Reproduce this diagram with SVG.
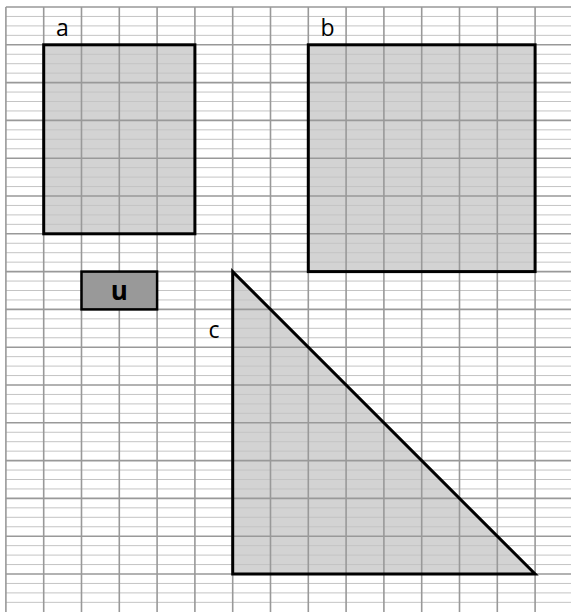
<svg xmlns="http://www.w3.org/2000/svg" width="571" height="612" viewBox="0 0 571 612">
<style>
.fill{fill:#d3d3d3;stroke:none}
.edge{fill:none;stroke:#000;stroke-width:3;stroke-linejoin:miter}
.major{stroke:#999;stroke-width:1.6}
.minor{stroke:#c4c4c4;stroke-width:1}
.lbl{font-family:"Open Sans","DejaVu Sans",sans-serif;font-size:23px;fill:#000}
.u{font-family:"Open Sans","DejaVu Sans",sans-serif;font-size:26px;font-weight:bold;fill:#000;text-anchor:middle}
</style>
<rect width="571" height="612" fill="#fff"/>
<g id="fills">
<rect class="fill" x="43.7" y="44.8" width="151.2" height="189"/>
<rect class="fill" x="308.3" y="44.8" width="226.8" height="226.8"/>
<polygon class="fill" points="232.7,271.6 232.7,574 535.1,574"/>
</g>
<g id="grid">
<g class="minor">
<path d="M5.9 16.45H571M5.9 25.9H571M5.9 35.35H571M5.9 54.25H571M5.9 63.7H571M5.9 73.15H571M5.9 92.05H571M5.9 101.5H571M5.9 110.95H571M5.9 129.85H571M5.9 139.3H571M5.9 148.75H571M5.9 167.65H571M5.9 177.1H571M5.9 186.55H571M5.9 205.45H571M5.9 214.9H571M5.9 224.35H571M5.9 243.25H571M5.9 252.7H571M5.9 262.15H571M5.9 281.05H571M5.9 290.5H571M5.9 299.95H571M5.9 318.85H571M5.9 328.3H571M5.9 337.75H571M5.9 356.65H571M5.9 366.1H571M5.9 375.55H571M5.9 394.45H571M5.9 403.9H571M5.9 413.35H571M5.9 432.25H571M5.9 441.7H571M5.9 451.15H571M5.9 470.05H571M5.9 479.5H571M5.9 488.95H571M5.9 507.85H571M5.9 517.3H571M5.9 526.75H571M5.9 545.65H571M5.9 555.1H571M5.9 564.55H571M5.9 583.45H571M5.9 592.9H571M5.9 602.35H571"/>
</g>
<g class="major">
<path d="M5.9 7H571M5.9 44.8H571M5.9 82.6H571M5.9 120.4H571M5.9 158.2H571M5.9 196H571M5.9 233.8H571M5.9 271.6H571M5.9 309.4H571M5.9 347.2H571M5.9 385H571M5.9 422.8H571M5.9 460.6H571M5.9 498.4H571M5.9 536.2H571M5.9 574H571"/>
<path d="M5.9 7V612M43.7 7V612M81.5 7V612M119.3 7V612M157.1 7V612M194.9 7V612M232.7 7V612M270.5 7V612M308.3 7V612M346.1 7V612M383.9 7V612M421.7 7V612M459.5 7V612M497.3 7V612M535.1 7V612"/>
</g>
</g>
<g id="a">
<rect class="edge" x="43.7" y="44.8" width="151.2" height="189"/>
<text class="lbl" x="56" y="36">a</text>
</g>
<g id="b">
<rect class="edge" x="308.3" y="44.8" width="226.8" height="226.8"/>
<text class="lbl" x="320.5" y="36">b</text>
</g>
<g id="c">
<polygon class="edge" points="232.7,271.6 232.7,574 535.1,574"/>
<text class="lbl" x="208.5" y="338">c</text>
</g>
<g id="u">
<rect x="81.5" y="271.6" width="75.6" height="37.8" fill="#999" stroke="#000" stroke-width="2.5"/>
<text class="u" x="119.3" y="300">u</text>
</g>
</svg>
